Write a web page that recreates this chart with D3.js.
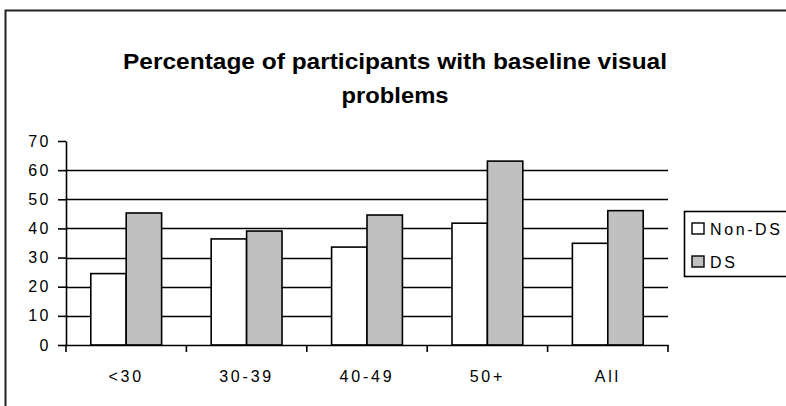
<!DOCTYPE html>
<html>
<head>
<meta charset="utf-8">
<script src="https://cdn.jsdelivr.net/npm/d3@7"></script>
<style>
  body { margin: 0; background: #fff; }
  svg { display: block; font-family: "Liberation Sans", Arial, sans-serif; }
</style>
</head>
<body>
<svg id="chart" width="786" height="406"></svg>
<script>
// ---- data ----
const categories = ["<30", "30-39", "40-49", "50+", "All"];
const seriesNames = ["Non-DS", "DS"];
const nonDS = [24.5, 36.4, 33.6, 41.8, 34.9];
const ds = [45.3, 39.1, 44.6, 63.1, 46.1];
const yTicks = [0, 10, 20, 30, 40, 50, 60, 70];
const gridValues = [10, 20, 30, 40, 50, 60];
const titleLines = ["Percentage of participants with baseline visual", "problems"];

const fills = { "Non-DS": "#ffffff", "DS": "#c0c0c0" };

const rows = categories.map((c, i) => ({ cat: c, "Non-DS": nonDS[i], "DS": ds[i] }));

const svg = d3.select("#chart");

// outer frame (cut off at right/bottom like the original)
svg.append("rect")
  .attr("x", 5.5).attr("y", 10.5)
  .attr("width", 820).attr("height", 420)
  .attr("fill", "none").attr("stroke", "#222").attr("stroke-width", 2);

// ---- scales ----
const plot = { left: 66, right: 668, top: 141, bottom: 345 };

const x0 = d3.scaleBand()
  .domain(categories)
  .range([plot.left, plot.right])
  .padding(0);

const x1 = d3.scaleBand()
  .domain(seriesNames)
  .range([0, x0.bandwidth()])
  .paddingInner(0)
  .paddingOuter(0.7);

const y = d3.scaleLinear()
  .domain([0, 70])
  .range([plot.bottom, plot.top]);

// ---- gridlines ----
svg.append("g")
  .selectAll("line")
  .data(gridValues)
  .join("line")
  .attr("x1", plot.left).attr("x2", plot.right)
  .attr("y1", d => Math.round(y(d)) + 0.5)
  .attr("y2", d => Math.round(y(d)) + 0.5)
  .attr("stroke", "#000").attr("stroke-width", 1.6);

// ---- bars ----
svg.append("g")
  .selectAll("g")
  .data(rows)
  .join("g")
  .attr("transform", d => `translate(${x0(d.cat)},0)`)
  .selectAll("rect")
  .data(d => seriesNames.map(s => ({ s, v: d[s] })))
  .join("rect")
  .attr("x", d => x1(d.s))
  .attr("width", x1.bandwidth())
  .attr("y", d => y(d.v))
  .attr("height", d => y(0) - y(d.v))
  .attr("fill", d => fills[d.s])
  .attr("stroke", "#000")
  .attr("stroke-width", 1.6);

// ---- y axis ----
const yAxis = svg.append("g")
  .attr("transform", `translate(${plot.left},0)`)
  .call(d3.axisLeft(y).tickValues(yTicks).tickSize(8).tickPadding(7).tickSizeOuter(0));
yAxis.select(".domain").attr("stroke", "#000").attr("stroke-width", 1.6);
yAxis.selectAll(".tick line").attr("stroke", "#000").attr("stroke-width", 1.6);
yAxis.selectAll(".tick text")
  .attr("font-size", 16)
  .attr("letter-spacing", 2.5)
  .attr("fill", "#000")
  .attr("font-family", "Liberation Sans, Arial, sans-serif");

// ---- x axis ----
const xAxis = svg.append("g")
  .attr("transform", `translate(0,${plot.bottom})`)
  .call(d3.axisBottom(x0).tickSize(0).tickPadding(26));
xAxis.select(".domain").attr("stroke", "#000").attr("stroke-width", 1.6);
xAxis.selectAll(".tick text")
  .attr("font-size", 16)
  .attr("letter-spacing", 2.8)
  .attr("fill", "#000")
  .attr("font-family", "Liberation Sans, Arial, sans-serif");

// boundary ticks between categories
const bounds = categories.map(c => x0(c)).concat([x0.range()[1]]);
svg.append("g")
  .selectAll("line")
  .data(bounds)
  .join("line")
  .attr("x1", d => d).attr("x2", d => d)
  .attr("y1", plot.bottom).attr("y2", plot.bottom + 7)
  .attr("stroke", "#000").attr("stroke-width", 1.6);

// ---- title ----
svg.append("g")
  .selectAll("text")
  .data(titleLines)
  .join("text")
  .attr("x", 395)
  .attr("y", (d, i) => 69 + i * 34)
  .attr("text-anchor", "middle")
  .attr("font-size", 22)
  .attr("font-weight", "bold")
  .attr("fill", "#000")
  .attr("textLength", (d, i) => i === 0 ? 544 : 107)
  .attr("lengthAdjust", "spacingAndGlyphs")
  .text(d => d);

// ---- legend ----
const legend = svg.append("g").attr("transform", "translate(684,211)");
legend.append("rect")
  .attr("x", 0.5).attr("y", 0.5)
  .attr("width", 130).attr("height", 65)
  .attr("fill", "#fff").attr("stroke", "#000").attr("stroke-width", 1.6);

const items = legend.selectAll("g.item")
  .data(seriesNames)
  .join("g")
  .attr("class", "item")
  .attr("transform", (d, i) => `translate(8,${12 + i * 33})`);

items.append("rect")
  .attr("width", 12).attr("height", 11)
  .attr("fill", d => fills[d])
  .attr("stroke", "#000").attr("stroke-width", 1.4);

items.append("text")
  .attr("x", 18).attr("y", 11.5)
  .attr("font-size", 16)
  .attr("letter-spacing", 2.6)
  .attr("fill", "#000")
  .text(d => d);
</script>
</body>
</html>
